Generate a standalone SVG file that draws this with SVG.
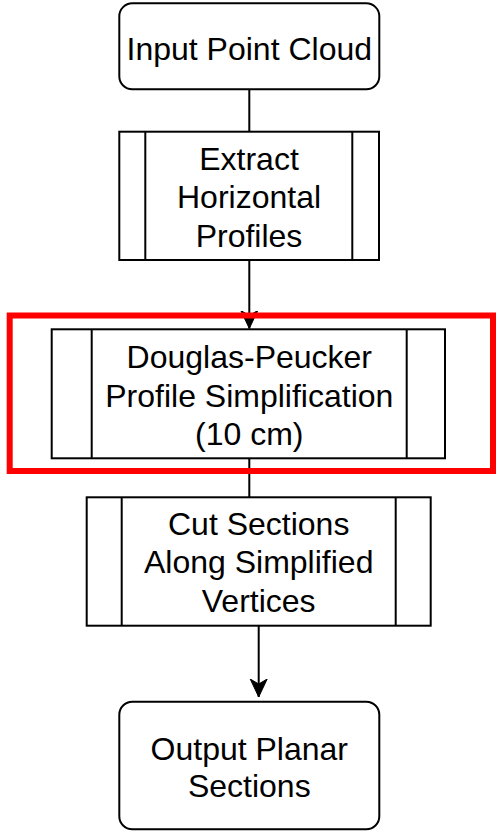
<svg xmlns="http://www.w3.org/2000/svg" width="497" height="832" viewBox="0 0 497 832">
<style>
.box{fill:#fff;stroke:#000;stroke-width:2}
.div{stroke:#000;stroke-width:2;fill:none}
.t{font-family:"Liberation Sans",Arial,sans-serif;font-size:32px;fill:#000;text-anchor:middle}
.edge{stroke:#000;stroke-width:2;fill:none}
</style>
<defs>
<marker id="arr" markerUnits="userSpaceOnUse" markerWidth="20" markerHeight="20" viewBox="0 0 20 20" refX="18" refY="10" orient="auto">
<path d="M0,1.5 L18,10 L0,18.5 L5,10 Z" fill="#000" stroke="#000" stroke-width="1"/>
</marker>
</defs>
<rect width="497" height="832" fill="#fff"/>
<g id="connectors">
<line class="edge" x1="249.3" y1="89" x2="249.3" y2="131.7"/>
<line class="edge" x1="249.3" y1="260" x2="249.3" y2="328.5" marker-end="url(#arr)"/>
<line class="edge" x1="249.3" y1="458.3" x2="249.3" y2="497.3"/>
<line class="edge" x1="258.7" y1="625.7" x2="258.7" y2="697" marker-end="url(#arr)"/>
</g>
<g id="node-input">
<rect class="box" x="119.3" y="3.3" width="260" height="86" rx="13"/>
<text class="t" x="249.3" y="60">Input Point Cloud</text>
</g>
<g id="node-extract">
<rect class="box" x="119.3" y="131.7" width="259.7" height="128.3"/>
<line class="div" x1="145.3" y1="131.7" x2="145.3" y2="260"/>
<line class="div" x1="352.3" y1="131.7" x2="352.3" y2="260"/>
<text class="t" x="249" y="170">Extract</text>
<text class="t" x="249" y="208.3">Horizontal</text>
<text class="t" x="249" y="246.7">Profiles</text>
</g>
<g id="highlight">
<rect x="9.7" y="315.5" width="483.3" height="155.5" fill="none" stroke="#ff0000" stroke-width="6"/>
</g>
<g id="node-dp">
<rect class="box" x="51.7" y="329.3" width="393.3" height="129"/>
<line class="div" x1="91.7" y1="329.3" x2="91.7" y2="458.3"/>
<line class="div" x1="406.7" y1="329.3" x2="406.7" y2="458.3"/>
<text class="t" x="249.3" y="368.3">Douglas-Peucker</text>
<text class="t" x="249.3" y="406.7">Profile Simplification</text>
<text class="t" x="249.3" y="445">(10 cm)</text>
</g>
<g id="node-cut">
<rect class="box" x="86.7" y="497.3" width="344" height="128.4"/>
<line class="div" x1="121.7" y1="497.3" x2="121.7" y2="625.7"/>
<line class="div" x1="395.7" y1="497.3" x2="395.7" y2="625.7"/>
<text class="t" x="258.7" y="535">Cut Sections</text>
<text class="t" x="258.7" y="573.4">Along Simplified</text>
<text class="t" x="258.7" y="611.7">Vertices</text>
</g>
<g id="node-output">
<rect class="box" x="119.3" y="701.7" width="260" height="127.6" rx="13"/>
<text class="t" x="249.3" y="760">Output Planar</text>
<text class="t" x="249.3" y="797">Sections</text>
</g>
</svg>
